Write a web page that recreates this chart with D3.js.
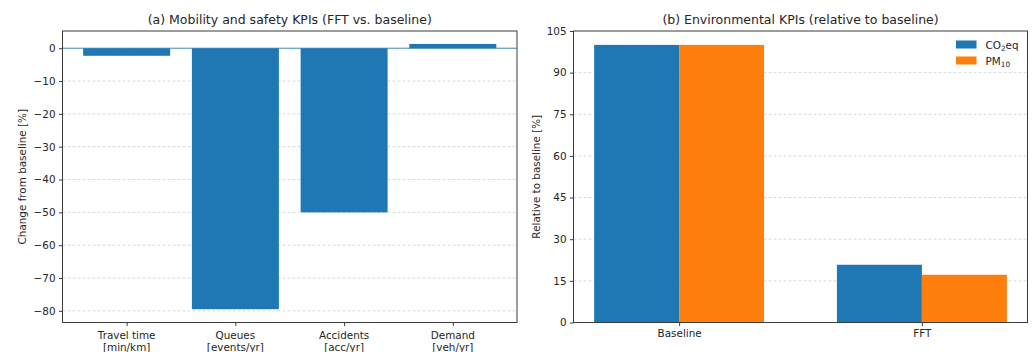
<!DOCTYPE html>
<html><head><meta charset="utf-8">
<script src="https://cdn.jsdelivr.net/npm/d3@7"></script>
<style>
body{margin:0;background:#fff;}
text{font-family:"DejaVu Sans",sans-serif;fill:#262626;}
</style></head>
<body><svg id="c" width="1034" height="352"></svg>
<script>
const mobilityCategories = ["Travel time|[min/km]", "Queues|[events/yr]", "Accidents|[acc/yr]", "Demand|[veh/yr]"];
const mobilityValues = [-2.3, -79.5, -50.0, 1.3];
const mobilityTicks = [0, -10, -20, -30, -40, -50, -60, -70, -80];

const envCategories = ["Baseline", "FFT"];
const envSeries = ["CO2eq", "PM10"];
const co2Values = [100, 20.8];
const pm10Values = [100, 17.2];
const envTicks = [0, 15, 30, 45, 60, 75, 90, 105];

const C0 = "#1f77b4", C1 = "#ff7f0e";
const svg = d3.select("#c");
const spineColor = "#3a3a3a";
const FS = 10.4, TFS = 12.5;

// ---------- Panel (a) ----------
{
  const L = 62.5, R = 517, T = 31, B = 322.5;
  const g = svg.append("g");
  const x = d3.scaleLinear().domain([-0.59, 3.59]).range([L, R]);
  const y = d3.scaleLinear().domain([5.25, -83.55]).range([T, B]);
  g.selectAll(".grid").data(mobilityTicks).join("line")
    .attr("x1", L).attr("x2", R).attr("y1", d => y(d)).attr("y2", d => y(d))
    .attr("stroke", "#b0b0b0").attr("stroke-opacity", 0.6).attr("stroke-width", 0.8)
    .attr("stroke-dasharray", "3,2");
  g.selectAll(".bar").data(mobilityValues).join("rect")
    .attr("x", (d, i) => x(i - 0.4)).attr("width", x(0.4) - x(-0.4))
    .attr("y", d => y(Math.max(0, d))).attr("height", d => Math.abs(y(d) - y(0)))
    .attr("fill", C0);
  g.append("line").attr("x1", L).attr("x2", R).attr("y1", y(0)).attr("y2", y(0))
    .attr("stroke", C0).attr("stroke-width", 1).attr("stroke-opacity", 0.8);
  const ya = g.append("g").attr("transform", `translate(${L},0)`)
    .call(d3.axisLeft(y).tickValues(mobilityTicks).tickSize(3.5).tickPadding(3.5).tickFormat(d => d < 0 ? "\u2212" + Math.abs(d) : d));
  ya.select(".domain").remove();
  ya.selectAll("text").attr("font-size", FS).style("font-family", "DejaVu Sans").attr("fill", "#262626");
  ya.selectAll("line").attr("stroke", spineColor);
  const xa = g.append("g").attr("transform", `translate(0,${B})`)
    .call(d3.axisBottom(x).tickValues([0, 1, 2, 3]).tickSize(3.5).tickFormat(""));
  xa.select(".domain").remove();
  xa.selectAll("line").attr("stroke", spineColor);
  mobilityCategories.forEach((c, i) => {
    const parts = c.split("|");
    parts.forEach((p, j) => {
      g.append("text").attr("x", x(i)).attr("y", B + 16.5 + j * 12)
        .attr("text-anchor", "middle").attr("font-size", FS).text(p);
    });
  });
  g.append("rect").attr("x", L).attr("y", T).attr("width", R - L).attr("height", B - T)
    .attr("fill", "none").attr("stroke", spineColor).attr("stroke-width", 1);
  g.append("text").attr("x", (L + R) / 2).attr("y", T - 7).attr("text-anchor", "middle")
    .attr("font-size", TFS).text("(a) Mobility and safety KPIs (FFT vs. baseline)");
  g.append("text").attr("transform", `translate(26,${(T + B) / 2}) rotate(-90)`)
    .attr("text-anchor", "middle").attr("font-size", FS).text("Change from baseline [%]");
}

// ---------- Panel (b) ----------
{
  const L = 573.5, R = 1027.5, T = 31, B = 322.5;
  const g = svg.append("g");
  const x = d3.scaleLinear().domain([-0.435, 1.435]).range([L, R]);
  const y = d3.scaleLinear().domain([0, 105]).range([B, T]);
  g.selectAll(".grid").data(envTicks.slice(1, -1)).join("line")
    .attr("x1", L).attr("x2", R).attr("y1", d => y(d)).attr("y2", d => y(d))
    .attr("stroke", "#b0b0b0").attr("stroke-opacity", 0.6).attr("stroke-width", 0.8)
    .attr("stroke-dasharray", "3,2");
  const w = 0.35;
  const series = [co2Values, pm10Values];
  const colors = [C0, C1];
  series.forEach((vals, s) => {
    g.selectAll(".b" + s).data(vals).join("rect")
      .attr("x", (d, i) => x(i - w + s * w)).attr("width", x(w) - x(0))
      .attr("y", d => y(d)).attr("height", d => y(0) - y(d))
      .attr("fill", colors[s]);
  });
  const ya = g.append("g").attr("transform", `translate(${L},0)`)
    .call(d3.axisLeft(y).tickValues(envTicks).tickSize(3.5).tickPadding(3.5));
  ya.select(".domain").remove();
  ya.selectAll("text").attr("font-size", FS).style("font-family", "DejaVu Sans").attr("fill", "#262626");
  ya.selectAll("line").attr("stroke", spineColor);
  const xa = g.append("g").attr("transform", `translate(0,${B})`)
    .call(d3.axisBottom(x).tickValues([0, 1]).tickSize(3.5).tickPadding(3.5).tickFormat((d, i) => envCategories[i]));
  xa.select(".domain").remove();
  xa.selectAll("line").attr("stroke", spineColor);
  xa.selectAll("text").attr("font-size", FS).style("font-family", "DejaVu Sans").attr("fill", "#262626");
  g.append("rect").attr("x", L).attr("y", T).attr("width", R - L).attr("height", B - T)
    .attr("fill", "none").attr("stroke", spineColor).attr("stroke-width", 1);
  g.append("text").attr("x", (L + R) / 2).attr("y", T - 7).attr("text-anchor", "middle")
    .attr("font-size", TFS).text("(b) Environmental KPIs (relative to baseline)");
  g.append("text").attr("transform", `translate(540,${(T + B) / 2}) rotate(-90)`)
    .attr("text-anchor", "middle").attr("font-size", FS).text("Relative to baseline [%]");
  const lg = g.append("g");
  envSeries.forEach((s, i) => {
    const yy = 40.5 + i * 16;
    lg.append("rect").attr("x", 956).attr("y", yy).attr("width", 20.5).attr("height", 8).attr("fill", colors[i]);
    const t = lg.append("text").attr("x", 985.5).attr("y", yy + 8).attr("font-size", FS);
    if (s === "CO2eq") {
      t.append("tspan").text("CO");
      t.append("tspan").attr("font-size", 7.3).attr("dy", 2.5).text("2");
      t.append("tspan").attr("dy", -2.5).text("eq");
    } else {
      t.append("tspan").text("PM");
      t.append("tspan").attr("font-size", 7.3).attr("dy", 2.5).text("10");
    }
  });
}
</script></body></html>
